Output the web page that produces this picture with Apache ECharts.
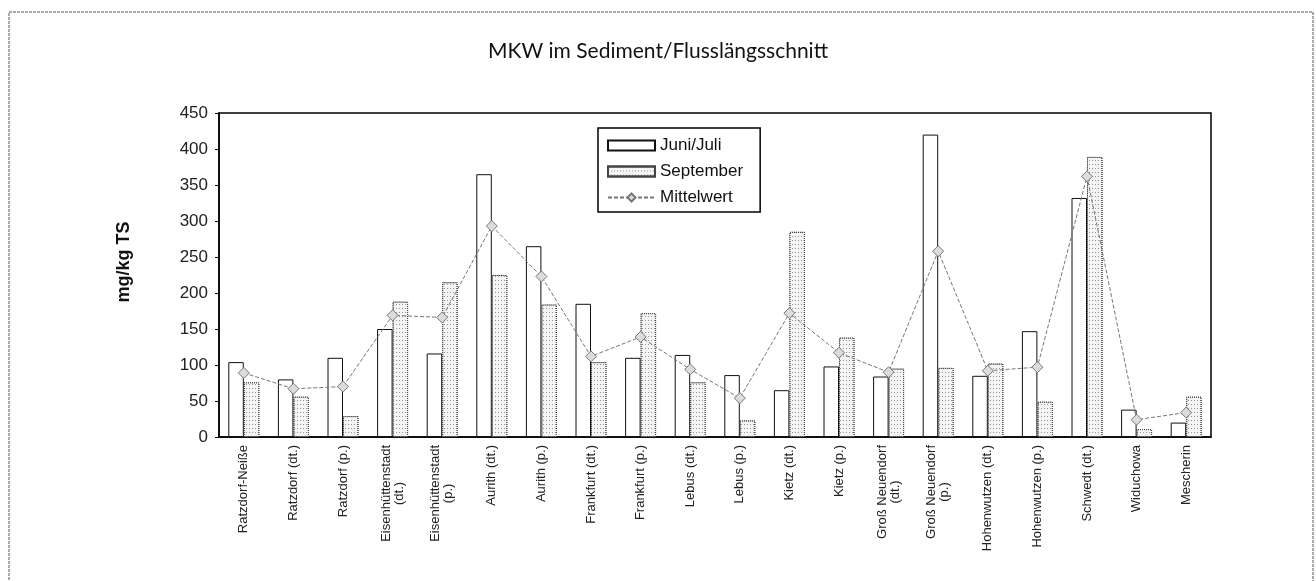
<!DOCTYPE html>
<html>
<head>
<meta charset="utf-8">
<script src="https://cdn.jsdelivr.net/npm/echarts@6/dist/echarts.min.js"></script>
<style>
  html, body { margin: 0; padding: 0; background: #fff; }
  #chart { width: 1316px; height: 581px; }
</style>
</head>
<body>
<div id="chart"></div>
<script>
const categories = [
  "Ratzdorf-Neiße", "Ratzdorf (dt.)", "Ratzdorf (p.)", "Eisenhüttenstadt\n(dt.)",
  "Eisenhüttenstadt\n(p.)", "Aurith (dt.)", "Aurith (p.)", "Frankfurt (dt.)",
  "Frankfurt (p.)", "Lebus (dt.)", "Lebus (p.)", "Kietz (dt.)", "Kietz (p.)",
  "Groß Neuendorf\n(dt.)", "Groß Neuendorf\n(p.)", "Hohenwutzen (dt.)",
  "Hohenwutzen (p.)", "Schwedt (dt.)", "Widuchowa", "Mescherin"
];
const juniJuli = [104, 80, 110, 150, 116, 365, 265, 185, 110, 114, 86, 65, 98, 84, 420, 85, 147, 332, 38, 20];
const september = [76, 56, 29, 188, 215, 225, 184, 104, 172, 76, 23, 285, 138, 95, 96, 102, 49, 389, 11, 56];
const mittelwert = [89, 67, 70, 169, 166, 293, 223, 112, 139, 94, 54, 172, 117, 90, 258, 92, 97, 362, 24, 34];

const font = "Liberation Sans, Arial, sans-serif";

let myChart = echarts.init(document.getElementById("chart"));

let option = {
  animation: false,
  backgroundColor: "#fff",
  graphic: [
    {
      type: "rect",
      shape: { x: 9, y: 12, width: 1304, height: 600 },
      style: { fill: "none", stroke: "#555", lineWidth: 1, lineDash: [3, 1] },
      silent: true,
    },
  ],
  title: {
    text: "MKW im Sediment/Flusslängsschnitt",
    left: "center",
    top: 36,
    textStyle: { fontFamily: "Lato, sans-serif", fontSize: 21, fontWeight: "normal", color: "#111" },
  },
  legend: {
    orient: "vertical",
    left: 598,
    top: 128,
    padding: [9, 17, 6, 9],
    itemGap: 9,
    itemWidth: 47,
    itemHeight: 10,
    itemTextGap: 6,
    borderColor: "#000",
    borderWidth: 1.5,
    backgroundColor: "#fff",
    textStyle: { fontFamily: font, fontSize: 17, color: "#111" },
    data: [
      { name: "Juni/Juli", icon: "rect" },
      { name: "September", icon: "rect" },
      { name: "Mittelwert" },
    ],
  },
  grid: {
    left: 219,
    right: 105,
    top: 113,
    bottom: 144,
    show: true,
    borderColor: "#000",
    borderWidth: 1.5,
  },
  xAxis: {
    type: "category",
    data: categories,
    axisLine: { lineStyle: { color: "#000", width: 1.5 } },
    axisTick: { length: 4, lineStyle: { color: "#000" } },
    axisLabel: {
      rotate: 90,
      interval: 0,
      margin: 8,
      fontFamily: font,
      fontSize: 13,
      color: "#222",
      formatter: function (value) {
        return value.split("\n").map((s) => "{c|" + s + "}").join("\n");
      },
      rich: { c: { align: "center", fontFamily: font, fontSize: 13, color: "#222" } },
    },
  },
  yAxis: {
    type: "value",
    min: 0,
    max: 450,
    interval: 50,
    name: "mg/kg TS",
    nameLocation: "middle",
    nameRotate: 90,
    nameGap: 86,
    nameTextStyle: { fontFamily: font, fontSize: 18, fontWeight: "bold", color: "#111", padding: [0, 0, 0, 26] },
    axisLine: { show: true, lineStyle: { color: "#000", width: 1.5 } },
    axisTick: { show: true, length: 4, lineStyle: { color: "#000" } },
    splitLine: { show: false },
    axisLabel: { fontFamily: font, fontSize: 17, color: "#222", margin: 11 },
  },
  series: [
    {
      name: "Juni/Juli",
      type: "bar",
      data: juniJuli,
      barWidth: 15.5,
      barGap: "0%",
      itemStyle: { color: "#fff", borderColor: "#111", borderWidth: 1 },
    },
    {
      name: "September",
      type: "bar",
      data: september,
      barWidth: 15.5,
      itemStyle: {
        color: "#f4f4f4",
        borderColor: "#444",
        borderWidth: 1,
        borderType: "dotted",
        decal: {
          symbol: "rect",
          symbolSize: 1,
          dashArrayX: [1, 2],
          dashArrayY: [1, 3],
          color: "rgba(70,70,70,0.55)",
        },
      },
    },
    {
      name: "Mittelwert",
      type: "line",
      data: mittelwert,
      symbol: "diamond",
      symbolSize: 11,
      lineStyle: { color: "#777", width: 1, type: [4, 2] },
      itemStyle: { color: "#dcdcdc", borderColor: "#777", borderWidth: 1 },
      z: 5,
    },
  ],
};

option && myChart.setOption(option);
</script>
</body>
</html>
